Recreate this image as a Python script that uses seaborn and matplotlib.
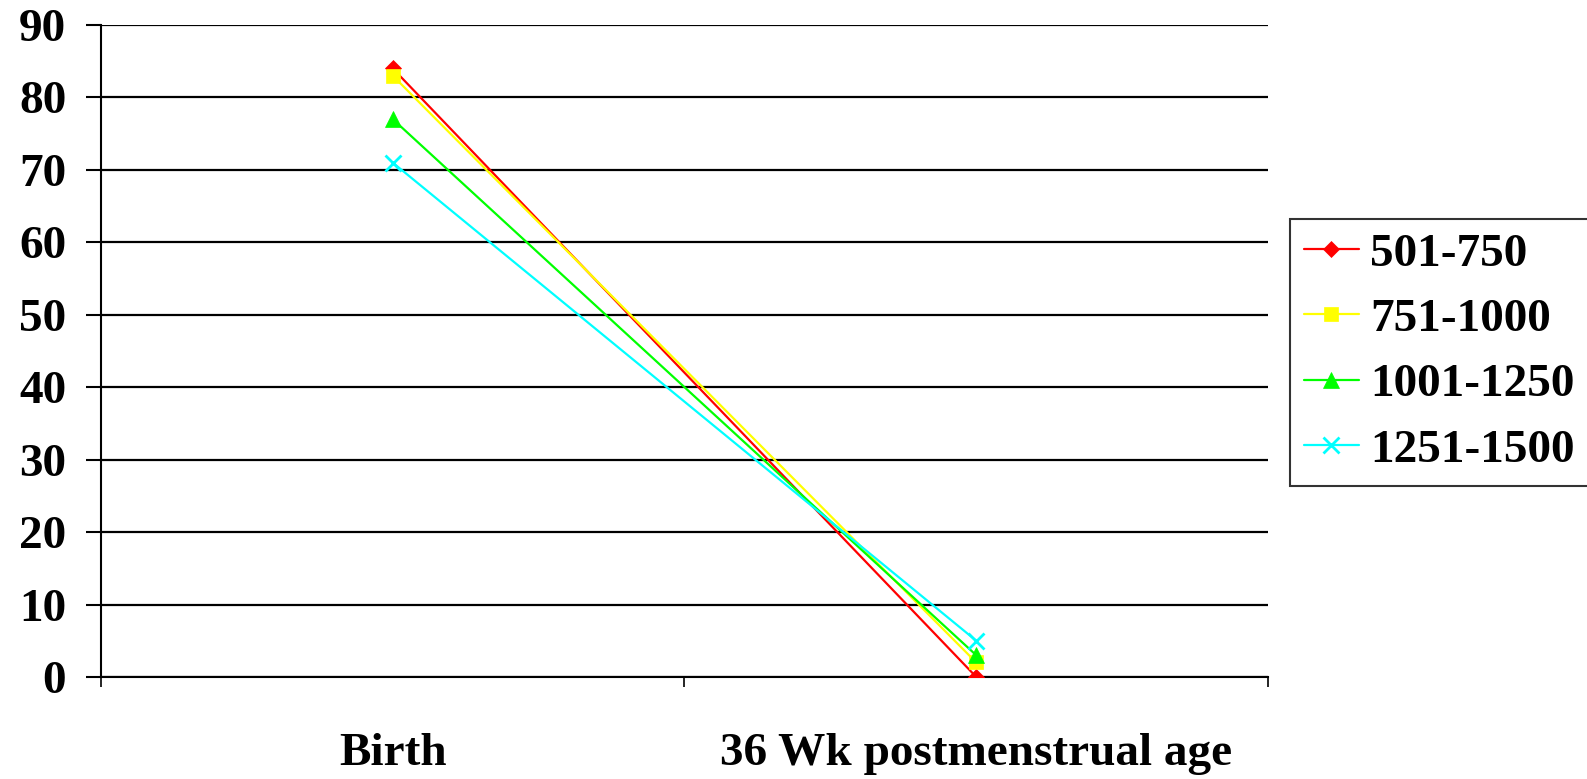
import matplotlib
matplotlib.use("Agg")
import matplotlib.pyplot as plt
import seaborn as sns
import pandas as pd

# Time points and weight groups
timepoints = ["Birth", "36 Wk postmenstrual age"]
groups = ["501-750", "751-1000", "1001-1250", "1251-1500"]
vals_501_750 = [84, 0]
vals_751_1000 = [83, 2]
vals_1001_1250 = [77, 3]
vals_1251_1500 = [71, 5]

colors = ["#ff0000", "#ffff00", "#00ff00", "#00ffff"]
markers = ["D", "s", "^", "x"]
msizes = [8, 10, 12, 12]

series = [vals_501_750, vals_751_1000, vals_1001_1250, vals_1251_1500]
rows = []
for g, vals in zip(groups, series):
    for i, v in enumerate(vals):
        rows.append({"pos": i, "value": v, "group": g})
df = pd.DataFrame(rows)

sns.set_style("white")
plt.rcParams["font.family"] = ["Liberation Serif", "DejaVu Serif"]
plt.rcParams["font.weight"] = "bold"
plt.rcParams["text.color"] = "black"
plt.rcParams["xtick.color"] = "black"
plt.rcParams["ytick.color"] = "black"

FS = 34

fig = plt.figure(figsize=(15.87, 7.79), dpi=100)
ax = fig.add_axes([0.0636, 0.131, 0.7354, 0.837])

for g, c, m, ms in zip(groups, colors, markers, msizes):
    sub = df[df["group"] == g]
    sns.lineplot(data=sub, x="pos", y="value", ax=ax, color=c, marker=m,
                 markersize=ms, markeredgecolor=c, markeredgewidth=2 if m == "x" else 0.5,
                 linewidth=1.6, label=g, zorder=3)

ax.set_xlim(-0.5, 1.5)
ax.set_ylim(0, 90)
ax.set_yticks(range(0, 91, 10))
ax.yaxis.grid(True, color="black", linewidth=1.6)
ax.set_axisbelow(True)
ax.set_xlabel("")
ax.set_ylabel("")

ax.set_xticks([0, 1])
ax.set_xticklabels(timepoints, fontsize=FS, fontweight="bold")
ax.set_xticks([-0.5, 0.5, 1.5], minor=True)
ax.tick_params(axis="x", which="major", bottom=True, length=0, pad=40)
ax.tick_params(axis="x", which="minor", bottom=True, length=7, width=1.2,
               color="black", direction="out")
ax.tick_params(axis="y", left=True, length=11, width=1.5, color="black",
               direction="out", pad=14, labelsize=FS)
for lab in ax.get_yticklabels():
    lab.set_fontweight("bold")

for s in ["top", "right"]:
    ax.spines[s].set_visible(False)
ax.spines["left"].set_color("black")
ax.spines["left"].set_linewidth(1.5)
ax.spines["bottom"].set_color("black")
ax.spines["bottom"].set_linewidth(1.5)

leg = ax.legend(loc="center left", bbox_to_anchor=(0.8129, 0.548),
                bbox_transform=fig.transFigure,
                frameon=True, fancybox=False, shadow=False, borderaxespad=0,
                prop={"size": FS, "weight": "bold"}, handlelength=1.15,
                labelspacing=0.47, borderpad=0.3, handletextpad=0.25)
leg.get_frame().set_edgecolor("black")
leg.get_frame().set_linewidth(1.5)

fig.savefig("out.png", dpi=100)
